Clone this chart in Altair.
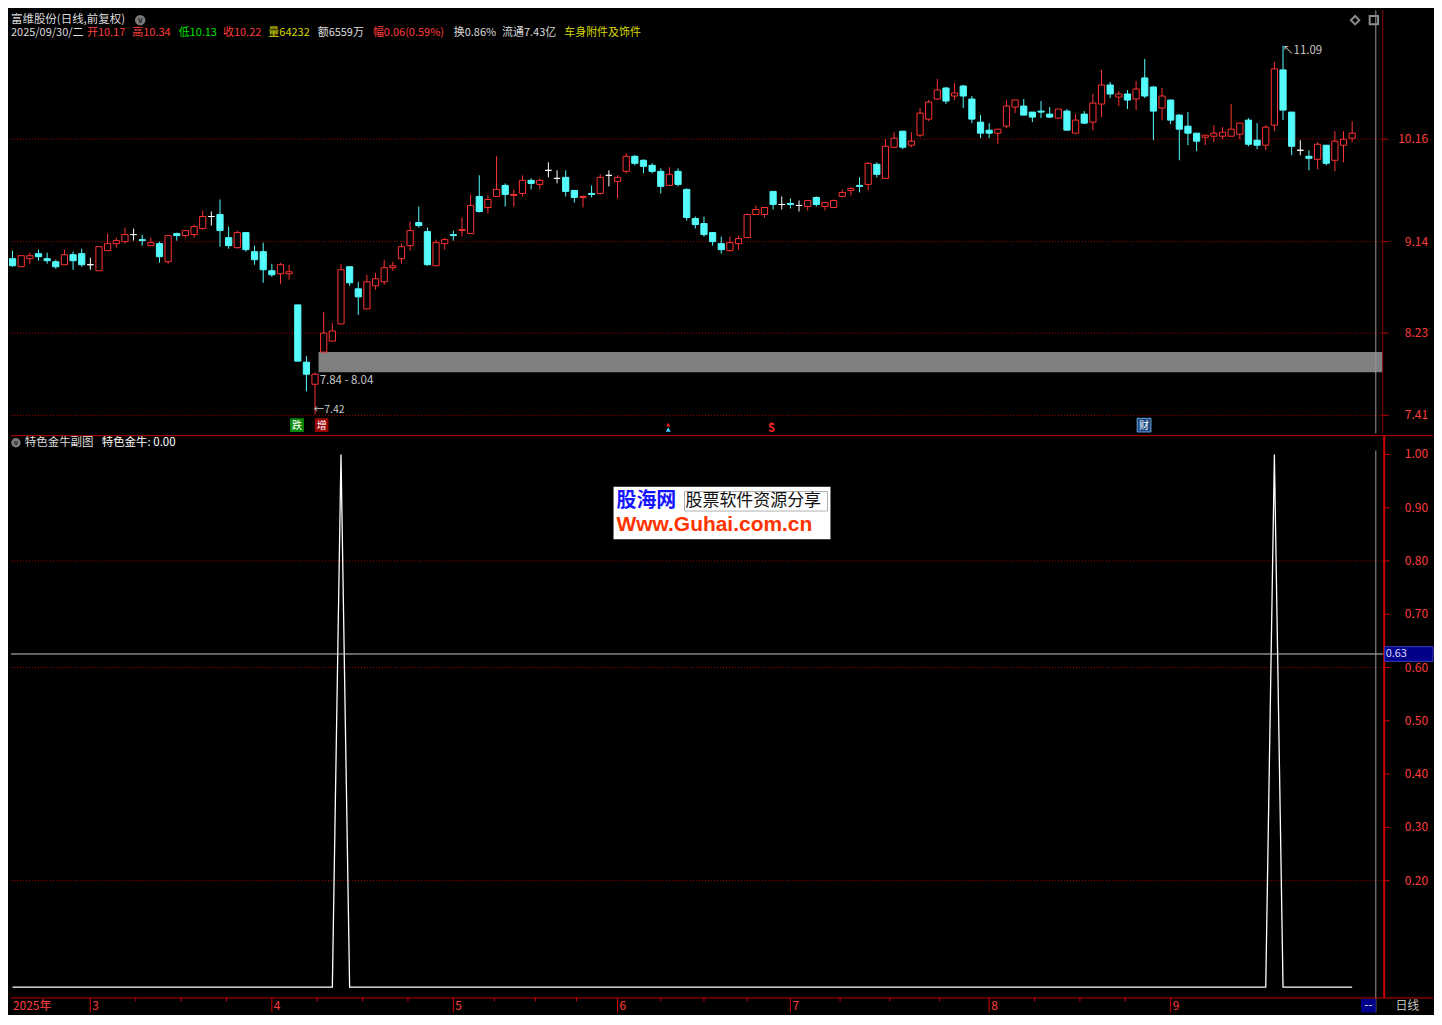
import altair as alt
import pandas as pd

# ---------------- data ----------------
OPEN = [8.97, 8.89, 8.97, 9.02, 8.97, 8.94, 8.91, 9.01, 9.02, 8.91,
        8.85, 9.05, 9.12, 9.14, 9.21, 9.16, 9.10, 9.12, 8.94, 9.22,
        9.20, 9.21, 9.27, 9.39, 9.41, 9.18, 9.08, 9.23, 9.04, 9.04,
        8.85, 8.82, 8.82, 8.51, 7.94, 7.72, 8.04, 8.15, 8.32, 8.89,
        8.67, 8.47, 8.70, 8.74, 8.88, 8.97, 9.10, 9.33, 9.24, 8.90,
        9.12, 9.21, 9.25, 9.22, 9.59, 9.48, 9.59, 9.70, 9.60, 9.62,
        9.75, 9.71, 9.85, 9.77, 9.78, 9.65, 9.58, 9.62, 9.62, 9.80,
        9.74, 9.84, 9.99, 9.95, 9.90, 9.84, 9.70, 9.84, 9.66, 9.37,
        9.32, 9.23, 9.12, 9.05, 9.12, 9.18, 9.41, 9.41, 9.64, 9.51,
        9.52, 9.50, 9.49, 9.58, 9.49, 9.48, 9.59, 9.65, 9.70, 9.71,
        9.91, 9.77, 10.08, 10.24, 10.10, 10.20, 10.36, 10.56, 10.67, 10.59,
        10.69, 10.56, 10.33, 10.25, 10.22, 10.29, 10.48, 10.49, 10.43, 10.44,
        10.41, 10.37, 10.44, 10.22, 10.41, 10.33, 10.51, 10.70, 10.58, 10.61,
        10.56, 10.77, 10.68, 10.47, 10.55, 10.40, 10.29, 10.22, 10.18, 10.19,
        10.19, 10.19, 10.21, 10.35, 10.15, 10.10, 10.30, 10.85, 10.43, 10.05,
        9.99, 9.96, 10.10, 9.95, 10.10, 10.17]
HIGH = [9.05, 9.00, 9.03, 9.06, 9.03, 8.96, 9.06, 9.04, 9.07, 8.98,
        9.09, 9.22, 9.18, 9.28, 9.27, 9.21, 9.18, 9.14, 9.20, 9.23,
        9.25, 9.31, 9.45, 9.44, 9.56, 9.29, 9.25, 9.23, 9.10, 9.13,
        8.92, 8.93, 8.91, 8.51, 8.00, 7.84, 8.44, 8.33, 8.92, 8.89,
        8.74, 8.81, 8.83, 8.96, 8.94, 9.12, 9.34, 9.49, 9.28, 9.16,
        9.18, 9.25, 9.38, 9.61, 9.80, 9.60, 9.99, 9.72, 9.66, 9.80,
        9.77, 9.77, 9.93, 9.85, 9.85, 9.65, 9.60, 9.70, 9.81, 9.85,
        9.80, 10.02, 10.00, 9.96, 9.92, 9.87, 9.88, 9.87, 9.67, 9.39,
        9.39, 9.23, 9.19, 9.19, 9.20, 9.42, 9.50, 9.48, 9.64, 9.59,
        9.57, 9.55, 9.55, 9.59, 9.53, 9.56, 9.66, 9.68, 9.78, 9.93,
        9.93, 10.16, 10.23, 10.24, 10.23, 10.47, 10.55, 10.76, 10.68, 10.72,
        10.70, 10.59, 10.40, 10.32, 10.26, 10.55, 10.55, 10.56, 10.43, 10.54,
        10.48, 10.46, 10.46, 10.41, 10.44, 10.61, 10.85, 10.73, 10.64, 10.65,
        10.74, 10.96, 10.69, 10.67, 10.55, 10.41, 10.43, 10.22, 10.20, 10.30,
        10.28, 10.51, 10.32, 10.37, 10.32, 10.30, 10.93, 11.09, 10.43, 10.15,
        10.05, 10.13, 10.10, 10.24, 10.24, 10.34]
LOW = [8.89, 8.89, 8.92, 8.95, 8.92, 8.87, 8.91, 8.86, 8.89, 8.86,
       8.85, 9.05, 9.08, 9.12, 9.15, 9.10, 9.10, 8.93, 8.92, 9.15,
       9.18, 9.18, 9.26, 9.30, 9.09, 9.07, 9.07, 9.04, 8.91, 8.73,
       8.79, 8.72, 8.76, 7.95, 7.65, 7.42, 8.04, 8.15, 8.32, 8.70,
       8.41, 8.47, 8.66, 8.71, 8.85, 8.92, 9.05, 9.28, 8.90, 8.90,
       9.06, 9.15, 9.19, 9.22, 9.43, 9.42, 9.59, 9.49, 9.49, 9.59,
       9.66, 9.66, 9.78, 9.72, 9.59, 9.53, 9.48, 9.58, 9.61, 9.69,
       9.57, 9.82, 9.90, 9.82, 9.82, 9.62, 9.70, 9.69, 9.35, 9.27,
       9.19, 9.10, 9.02, 9.04, 9.06, 9.18, 9.41, 9.38, 9.46, 9.46,
       9.47, 9.44, 9.45, 9.49, 9.45, 9.48, 9.58, 9.60, 9.63, 9.65,
       9.78, 9.77, 10.07, 10.06, 10.08, 10.18, 10.34, 10.55, 10.51, 10.55,
       10.47, 10.32, 10.17, 10.17, 10.11, 10.27, 10.42, 10.40, 10.33, 10.37,
       10.37, 10.36, 10.25, 10.22, 10.31, 10.25, 10.38, 10.57, 10.49, 10.46,
       10.45, 10.57, 10.15, 10.35, 10.31, 9.95, 10.10, 10.04, 10.10, 10.13,
       10.16, 10.19, 10.16, 10.09, 10.06, 10.05, 10.24, 10.35, 10.00, 10.00,
       9.85, 9.86, 9.90, 9.84, 9.93, 10.13]
CLOSE = [8.90, 9.00, 9.00, 8.99, 8.95, 8.89, 9.01, 8.95, 8.91, 8.91,
         9.09, 9.12, 9.15, 9.21, 9.21, 9.15, 9.13, 8.99, 9.20, 9.20,
         9.25, 9.29, 9.39, 9.39, 9.25, 9.10, 9.23, 9.06, 8.96, 8.86,
         8.81, 8.91, 8.84, 7.95, 7.82, 7.82, 8.23, 8.25, 8.86, 8.73,
         8.59, 8.74, 8.77, 8.88, 8.90, 9.09, 9.25, 9.30, 8.91, 9.13,
         9.16, 9.20, 9.26, 9.50, 9.44, 9.56, 9.66, 9.61, 9.61, 9.75,
         9.72, 9.75, 9.85, 9.77, 9.64, 9.58, 9.59, 9.61, 9.78, 9.80,
         9.78, 9.99, 9.92, 9.89, 9.84, 9.69, 9.81, 9.71, 9.38, 9.31,
         9.21, 9.14, 9.06, 9.13, 9.17, 9.41, 9.46, 9.48, 9.51, 9.51,
         9.51, 9.50, 9.55, 9.51, 9.53, 9.55, 9.63, 9.67, 9.69, 9.92,
         9.81, 10.09, 10.17, 10.08, 10.14, 10.42, 10.53, 10.65, 10.54, 10.62,
         10.59, 10.36, 10.22, 10.22, 10.26, 10.49, 10.55, 10.40, 10.38, 10.43,
         10.38, 10.46, 10.25, 10.35, 10.32, 10.52, 10.70, 10.61, 10.61, 10.55,
         10.66, 10.59, 10.44, 10.59, 10.35, 10.26, 10.22, 10.14, 10.20, 10.22,
         10.23, 10.26, 10.32, 10.11, 10.10, 10.28, 10.86, 10.45, 10.09, 10.05,
         9.97, 10.11, 9.92, 10.14, 10.16, 10.22]
# sub-chart indicator (特色金牛), one value per trading day
SIGNAL = [0, 0, 0, 0, 0, 0, 0, 0, 0, 0, 0, 0, 0, 0, 0, 0, 0, 0, 0, 0,
          0, 0, 0, 0, 0, 0, 0, 0, 0, 0, 0, 0, 0, 0, 0, 0, 0, 0, 1, 0,
          0, 0, 0, 0, 0, 0, 0, 0, 0, 0, 0, 0, 0, 0, 0, 0, 0, 0, 0, 0,
          0, 0, 0, 0, 0, 0, 0, 0, 0, 0, 0, 0, 0, 0, 0, 0, 0, 0, 0, 0,
          0, 0, 0, 0, 0, 0, 0, 0, 0, 0, 0, 0, 0, 0, 0, 0, 0, 0, 0, 0,
          0, 0, 0, 0, 0, 0, 0, 0, 0, 0, 0, 0, 0, 0, 0, 0, 0, 0, 0, 0,
          0, 0, 0, 0, 0, 0, 0, 0, 0, 0, 0, 0, 0, 0, 0, 0, 0, 0, 0, 0,
          0, 0, 0, 0, 0, 0, 1, 0, 0, 0, 0, 0, 0, 0, 0, 0]

MONTH_LABELS = ["3", "4", "5", "6", "7", "8", "9"]
MONTH_START = [9, 30, 51, 70, 90, 113, 134]
YEAR_LABEL = "2025年"
PRICE_TICKS = [10.16, 9.14, 8.23, 7.41]
SUB_TICKS = [1.00, 0.90, 0.80, 0.70, 0.60, 0.50, 0.40, 0.30, 0.20]
SUB_GRID = [0.80, 0.60, 0.20]
GAP = [7.84, 8.04]
GAP_START = 35
LOW_MARK = 7.42
HIGH_MARK = 11.09
CURSOR_VALUE = "0.63"
TITLE = "富维股份(日线,前复权)"
DATE_TEXT = "2025/09/30/二"
VOLUME = "64232"
AMOUNT = "6559万"
TURNOVER = "0.86%"
FLOAT_CAP = "7.43亿"
SECTOR = "车身附件及饰件"
SUB_TITLE = "特色金牛副图"
SUB_VALUE = "特色金牛: 0.00"

# ---------------- layout ----------------
FONT = "Noto Sans CJK SC"
W = 1426
H_TOP = 424
H_BOT = 579
SX = W / 1442
SY = (H_TOP + H_BOT) / 1025
REF_SPLIT = H_TOP / SY


def X(px):
    return round(px * SX, 2)


def YT(py):
    return round(py * SY, 2)


def YB(py):
    return round((py - REF_SPLIT) * SY, 2)


PLOT_R = X(1391)
RED = "#ff3c3c"
DARKRED = "#b40000"

XS = alt.Scale(domain=[-0.1826, 164.354], nice=False, zero=False)
YS_TOP = alt.Scale(domain=[7.2322, 11.4426], nice=False, zero=False)
YS_BOT = alt.Scale(domain=[-0.04762, 1.03608], nice=False, zero=False)

ONE = alt.Data(values=[{"k": 0}])


def text(x, y, s, color, size=12, align="left", weight="normal", font=FONT):
    return alt.Chart(alt.Data(values=[{"t": s}])).mark_text(
        align=align, baseline="middle", color=color, fontSize=size,
        font=font, fontWeight=weight
    ).encode(x=alt.value(x), y=alt.value(y), text="t:N")


def box(x1, y1, x2, y2, fill, stroke=None, sw=1):
    kw = dict(fill=fill)
    if stroke:
        kw.update(stroke=stroke, strokeWidth=sw)
    return alt.Chart(ONE).mark_rect(**kw).encode(
        x=alt.value(x1), x2=alt.value(x2), y=alt.value(y1), y2=alt.value(y2))


def hline(x1, x2, y, color, width=1):
    return alt.Chart(ONE).mark_rule(color=color, strokeWidth=width).encode(
        x=alt.value(x1), x2=alt.value(x2), y=alt.value(y))


def vline(x, y1, y2, color, width=1):
    return alt.Chart(ONE).mark_rule(color=color, strokeWidth=width).encode(
        x=alt.value(x), y=alt.value(y1), y2=alt.value(y2))


def point(x, y, shape, color, size, filled=True):
    return alt.Chart(ONE).mark_point(shape=shape, filled=filled, color=color,
                                     size=size, opacity=1).encode(
        x=alt.value(x), y=alt.value(y))


# ---------------- top panel: candles ----------------
df = pd.DataFrame({"i": list(range(len(OPEN))), "o": OPEN, "h": HIGH,
                   "l": LOW, "c": CLOSE})
df["kind"] = ["up" if c > o else ("down" if c < o else "flat")
              for o, c in zip(OPEN, CLOSE)]
df["b0"] = df[["o", "c"]].min(axis=1)
df["b1"] = df[["o", "c"]].max(axis=1)
df["x0"] = df["i"] - 0.36
df["x1"] = df["i"] + 0.36

KIND = ["up", "down", "flat"]
STROKE = alt.Stroke("kind:N", scale=alt.Scale(domain=KIND,
                    range=["#ff3232", "#54fcfc", "#ffffff"]), legend=None)
FILL = alt.Fill("kind:N", scale=alt.Scale(domain=KIND,
                range=["#000000", "#54fcfc", "#ffffff"]), legend=None)

grid_top = alt.Chart(pd.DataFrame({"p": PRICE_TICKS})).mark_rule(
    color=DARKRED, strokeDash=[1, 2]).encode(
    y=alt.Y("p:Q", scale=YS_TOP, axis=None), x=alt.value(0), x2=alt.value(PLOT_R))

gap_band = alt.Chart(pd.DataFrame({"x0": [GAP_START + 0.4], "lo": [GAP[0]],
                                   "hi": [GAP[1]]})).mark_rect(
    fill="#808080").encode(
    x=alt.X("x0:Q", scale=XS, axis=None), x2=alt.value(PLOT_R),
    y=alt.Y("lo:Q", scale=YS_TOP, axis=None), y2="hi:Q")

wicks = alt.Chart(df).mark_rule(strokeWidth=1).encode(
    x=alt.X("i:Q", scale=XS, axis=None),
    y=alt.Y("l:Q", scale=YS_TOP, axis=None), y2="h:Q", stroke=STROKE)

bodies = alt.Chart(df).mark_rect(strokeWidth=1).encode(
    x=alt.X("x0:Q", scale=XS, axis=None), x2="x1:Q",
    y=alt.Y("b0:Q", scale=YS_TOP, axis=None), y2="b1:Q",
    stroke=STROKE, fill=FILL)

top_ticks = alt.Chart(pd.DataFrame({"p": PRICE_TICKS})).mark_rule(
    color="#c00000").encode(
    y=alt.Y("p:Q", scale=YS_TOP, axis=None),
    x=alt.value(X(1391)), x2=alt.value(X(1397)))
top_labels = alt.Chart(pd.DataFrame({"p": PRICE_TICKS})).mark_text(
    align="right", baseline="middle", color=RED, fontSize=12, font=FONT).encode(
    y=alt.Y("p:Q", scale=YS_TOP, axis=None), x=alt.value(X(1437)),
    text=alt.Text("p:Q", format=".2f"))

last_o, last_h, last_l, last_c = OPEN[-1], HIGH[-1], LOW[-1], CLOSE[-1]
chg = last_c - CLOSE[-2]
chg_txt = f"幅{chg:.2f}({chg / CLOSE[-2] * 100:.2f}%)"

GRAY = "#dcdcdc"
HS = 11  # header font size
top_layers = [
    grid_top, gap_band, wicks, bodies,
    vline(X(1384), 0, H_TOP, "#9a9a9a"),
    vline(X(1391), 0, H_TOP, "#8c0000"),
    top_ticks, top_labels,
    text(X(313), YT(380), f"{GAP[0]:.2f} - {GAP[1]:.2f}", "#c8c8c8", size=11.5),
    text(X(307), YT(410), f"←{LOW_MARK:.2f}", "#c8c8c8", size=10.5),
    text(X(1289), YT(42), f"↖{HIGH_MARK:.2f}", "#c8c8c8", size=11.5),
    # signal markers along the panel bottom
    box(X(283), YT(418), X(297), YT(432), "#0a8a0a"),
    text(X(290), YT(425.5), "跌", "#ffffff", size=10, align="center"),
    box(X(308), YT(418), X(322), YT(432), "#9a0000"),
    text(X(315), YT(425.5), "增", "#ffffff", size=10, align="center"),
    point(X(666.5), YT(424.5), "triangle-up", "#ff2020", 18),
    point(X(666.5), YT(429.5), "triangle-up", "#40c8ff", 26),
    point(X(771), YT(423), "triangle-up", "#ff2020", 12),
    text(X(771), YT(428.5), "S", "#ff2020", size=11, align="center", weight="bold"),
    box(X(1142), YT(418), X(1156), YT(432), "#1c4a85", stroke="#6fa0d8"),
    text(X(1149), YT(425.5), "财", "#ffffff", size=10, align="center"),
    # header
    text(X(0), YT(9.5), TITLE, GRAY, size=HS + 0.5),
    point(X(131), YT(10), "circle", "#7a7a7a", 110),
    text(X(131), YT(10.5), "v", "#202020", size=8, align="center", weight="bold"),
    text(X(0), YT(23.5), DATE_TEXT, GRAY, size=HS),
    text(X(77), YT(23.5), f"开{last_o:.2f}", RED, size=HS),
    text(X(123), YT(23.5), f"高{last_h:.2f}", RED, size=HS),
    text(X(170), YT(23.5), f"低{last_l:.2f}", "#00e000", size=HS),
    text(X(215), YT(23.5), f"收{last_c:.2f}", RED, size=HS),
    text(X(261), YT(23.5), f"量{VOLUME}", "#d8d800", size=HS),
    text(X(311), YT(23.5), f"额{AMOUNT}", GRAY, size=HS),
    text(X(367), YT(23.5), chg_txt, RED, size=HS),
    text(X(449), YT(23.5), f"换{TURNOVER}", GRAY, size=HS),
    text(X(498), YT(23.5), f"流通{FLOAT_CAP}", GRAY, size=HS),
    text(X(561), YT(23.5), SECTOR, "#d8d800", size=HS),
    point(X(1363), YT(10), "diamond", "#8a8a8a", 70, filled=False),
    point(X(1382), YT(10), "square", "#8a8a8a", 70, filled=False),
]
top = alt.layer(*top_layers).properties(width=W, height=H_TOP)

# ---------------- bottom panel: indicator ----------------
sig = pd.DataFrame({"i": list(range(len(SIGNAL))), "v": SIGNAL})
sig_line = alt.Chart(sig).mark_line(color="#ffffff", strokeWidth=1.3).encode(
    x=alt.X("i:Q", scale=XS, axis=None), y=alt.Y("v:Q", scale=YS_BOT, axis=None))

grid_bot = alt.Chart(pd.DataFrame({"v": SUB_GRID})).mark_rule(
    color=DARKRED, strokeDash=[1, 2]).encode(
    y=alt.Y("v:Q", scale=YS_BOT, axis=None), x=alt.value(0), x2=alt.value(PLOT_R))
bot_ticks = alt.Chart(pd.DataFrame({"v": SUB_TICKS})).mark_rule(
    color="#d00000").encode(
    y=alt.Y("v:Q", scale=YS_BOT, axis=None),
    x=alt.value(X(1392)), x2=alt.value(X(1398)))
bot_labels = alt.Chart(pd.DataFrame({"v": SUB_TICKS})).mark_text(
    align="right", baseline="middle", color=RED, fontSize=12, font=FONT).encode(
    y=alt.Y("v:Q", scale=YS_BOT, axis=None), x=alt.value(X(1437)),
    text=alt.Text("v:Q", format=".2f"))

months = pd.DataFrame({"i": MONTH_START, "label": MONTH_LABELS})
quarters = []
for a, b in zip(MONTH_START[:-1], MONTH_START[1:]):
    quarters += [a + (b - a) * k / 4 for k in (1, 2, 3)]
qdf = pd.DataFrame({"i": quarters})

month_rules = alt.Chart(months).mark_rule(color="#d00000").encode(
    x=alt.X("i:Q", scale=XS, axis=None),
    y=alt.value(YB(1010)), y2=alt.value(YB(1025)))
month_text = alt.Chart(months).mark_text(
    align="left", baseline="middle", dx=2, color=RED, fontSize=12, font=FONT).encode(
    x=alt.X("i:Q", scale=XS, axis=None), y=alt.value(YB(1018)), text="label:N")
minor_rules = alt.Chart(qdf).mark_rule(color="#d00000").encode(
    x=alt.X("i:Q", scale=XS, axis=None),
    y=alt.value(YB(1010)), y2=alt.value(YB(1013.5)))

bot_layers = [
    grid_bot, sig_line,
    hline(0, W, 0.5, "#c00000"),
    hline(0, X(1392), YB(657.5), "#c8c8c8"),
    vline(X(1384), YB(449), YB(1025), "#9a9a9a"),
    vline(X(1392.5), 0.5, YB(1010), "#d00000", width=2),
    hline(0, W, YB(1010), "#c00000"),
    bot_ticks, bot_labels,
    box(X(1393), YB(650), W, YB(665), "#00008b", stroke="#3c3cc8"),
    text(X(1394), YB(657.5), CURSOR_VALUE, "#dcdcff", size=11),
    # header
    point(X(5), YB(441), "circle", "#7a7a7a", 90),
    text(X(5), YB(441.5), "v", "#202020", size=7, align="center", weight="bold"),
    text(X(14), YB(441), SUB_TITLE, GRAY, size=11.5),
    text(X(92), YB(441), SUB_VALUE, "#ffffff", size=11.5),
    # watermark
    box(X(611), YB(486), X(831), YB(540), "#ffffff"),
    text(X(614), YB(501), "股海网", "#1414ff", size=20, weight="bold"),
    box(X(683), YB(491), X(828), YB(511), "#ffffff", stroke="#b0b0b0"),
    text(X(684), YB(501), "股票软件资源分享", "#111111", size=17),
    text(X(614), YB(525), "Www.Guhai.com.cn", "#ff3300", size=21,
         weight="bold", font="Liberation Sans"),
    # time axis
    month_rules, minor_rules, month_text,
    text(X(2), YB(1018), YEAR_LABEL, RED),
    box(X(1369), YB(1011), X(1384), YB(1025), "#00008b"),
    text(X(1376.5), YB(1018), "--", "#ffffff", size=11, align="center"),
    text(X(1416), YB(1018), "日线", "#c0c0c0", align="center"),
]
bottom = alt.layer(*bot_layers).properties(width=W, height=H_BOT)

chart = alt.vconcat(top, bottom, spacing=0).properties(padding=0).configure(
    background="#000000").configure_view(strokeWidth=0)

chart.save("out.html", embed_options={"renderer": "svg", "actions": False})
